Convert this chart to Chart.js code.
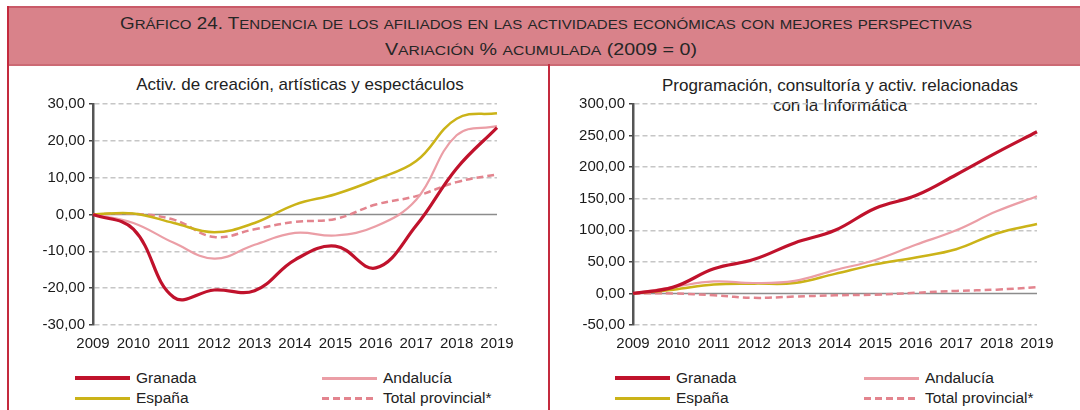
<!DOCTYPE html>
<html>
<head>
<meta charset="utf-8">
<script src="https://cdn.jsdelivr.net/npm/chart.js@4/dist/chart.umd.min.js"></script>
<style>
  html, body { margin: 0; padding: 0; background: #fff; }
  body { width: 1080px; height: 410px; position: relative; overflow: hidden; font-family: "Liberation Sans", Arial, sans-serif; color: #222; }
  .header {
    position: absolute; left: 8px; top: 6px; width: 1090px; height: 56px;
    background: #d9828a; border-top: 2px solid #c95a68; border-bottom: 2px solid #cc6a74;
    font-family: "Liberation Sans Narrow", "Liberation Sans", Arial, sans-serif;
    font-size: 17px; color: #262626;
  }
  .hline { position: absolute; white-space: nowrap; transform-origin: 0 0; }
  .sc { font-size: 13.6px; }
  .vline { position: absolute; background: #c42a3e; width: 2px; }
  .ctitle { position: absolute; font-size: 17px; text-align: center; color: #222; line-height: 20px; white-space: nowrap; }
  canvas { position: absolute; }
  .leg { position: absolute; font-size: 15.5px; line-height: 16px; }
  .sw { position: absolute; height: 0; }
</style>
</head>
<body>
<div class="header">
  <span class="hline" id="h1">Gráfico 24. Tendencia de los afiliados en las actividades económicas con mejores perspectivas</span>
  <span class="hline" id="h2">Variación % acumulada (2009 = 0)</span>
</div>
<div class="vline" style="left:7px; top:6px; height:404px;"></div>
<div class="vline" style="left:548px; top:64px; height:346px;"></div>

<div class="ctitle" style="left:100px; width:400px; top:75px;">Activ. de creación, artísticas y espectáculos</div>
<div class="ctitle" style="left:630px; width:420px; top:76px;">Programación, consultoría y activ. relacionadas<br>con la Informática</div>

<canvas id="artChart" width="538" height="289" style="left:10px; top:66px;"></canvas>
<canvas id="itChart" width="528" height="289" style="left:552px; top:66px;"></canvas>

<div id="legends"></div>

<script>
// years on the x axis
const years = ['2009', '2010', '2011', '2012', '2013', '2014', '2015', '2016', '2017', '2018', '2019'];

// Activ. de creación, artísticas y espectáculos
const artGranada   = [0, -4.0, -22.5, -20.5, -20.7, -12.3, -8.6, -14.5, -3.0, 12.5, 23.6];
const artAndalucia = [0, -2.3, -7.7, -12.0, -8.2, -5.0, -5.7, -3.2, 4.0, 21.5, 24.0];
const artEspana    = [0, 0.3, -2.3, -4.8, -2.3, 2.7, 5.5, 9.5, 14.5, 26.0, 27.5];
const artTotal     = [0, 0.2, -1.4, -6.1, -4.0, -2.0, -1.2, 2.7, 5.0, 8.8, 10.9];

// Programación, consultoría y activ. relacionadas con la Informática
const itGranada   = [0, 10, 39, 54, 80, 100, 135, 155, 188, 223, 256];
const itAndalucia = [0, 10, 19, 16.5, 20, 37, 53, 77, 100, 130, 154];
const itEspana    = [0, 6, 14, 15.5, 16.5, 31, 46, 57, 70, 95, 110];
const itTotal     = [0, 0, -3, -7, -5, -3, -2, 1, 4, 6, 10];

const seriesNames = ['Granada', 'Andalucía', 'España', 'Total provincial*'];

const COL = {
  granada: '#c0122c',
  andalucia: '#eb9ea6',
  espana: '#cbb318',
  total: '#e3848e'
};

const fmt = v => v.toFixed(2).replace('.', ',');

// header: small caps by hand (lower case runs -> smaller capitals), then stretch to width
function fitHeader(id, left, width, top) {
  const el = document.getElementById(id);
  el.innerHTML = el.textContent.replace(/[a-záéíóúñ]+/g, m => `<span class="sc">${m.toUpperCase()}</span>`);
  const w = el.getBoundingClientRect().width;
  el.style.left = (left - 8) + 'px';
  el.style.top = top + 'px';
  el.style.transform = `scaleX(${width / w})`;
}
fitHeader('h1', 120, 852, 6);
fitHeader('h2', 385, 312, 32);

// solid zero line, drawn under the series
const zeroLine = {
  id: 'zeroLine',
  beforeDatasetsDraw(chart) {
    const { ctx, chartArea, scales } = chart;
    const y = scales.y.getPixelForValue(0);
    ctx.save();
    ctx.strokeStyle = '#8c8c8c';
    ctx.lineWidth = 1.5;
    ctx.beginPath();
    ctx.moveTo(chartArea.left, y);
    ctx.lineTo(chartArea.right, y);
    ctx.stroke();
    ctx.restore();
  }
};

function makeChart(id, data, yMin, yMax, step, yWidth, padRight) {
  const ctx = document.getElementById(id).getContext('2d');
  return new Chart(ctx, {
    type: 'line',
    data: {
      labels: years,
      datasets: [
        { label: seriesNames[3], data: data[3], borderColor: COL.total, borderWidth: 2.5, borderDash: [7, 4], order: 4 },
        { label: seriesNames[2], data: data[2], borderColor: COL.espana, borderWidth: 2.5, order: 3 },
        { label: seriesNames[1], data: data[1], borderColor: COL.andalucia, borderWidth: 2.2, order: 2 },
        { label: seriesNames[0], data: data[0], borderColor: COL.granada, borderWidth: 3.2, order: 1 }
      ].map(d => Object.assign({ pointRadius: 0, tension: 0.4, fill: false }, d))
    },
    options: {
      responsive: false,
      animation: false,
      devicePixelRatio: 1,
      layout: { padding: { top: 38, right: padRight, left: 0, bottom: 0 } },
      plugins: { legend: { display: false }, tooltip: { enabled: false } },
      scales: {
        x: {
          offset: false,
          grid: { display: false, drawTicks: false },
          border: { display: false },
          ticks: { color: '#1a1a1a', font: { family: 'Liberation Sans', size: 15 }, padding: 10, maxRotation: 0, autoSkip: false },
          afterFit: s => { s.height = 30; }
        },
        y: {
          min: yMin, max: yMax,
          ticks: { stepSize: step, callback: v => fmt(v), color: '#1a1a1a', font: { family: 'Liberation Sans', size: 15 }, padding: 4 },
          grid: {
            color: c => c.tick && c.tick.value === 0 ? 'rgba(0,0,0,0)' : '#c6c6c6',
            lineWidth: 1.5,
            tickColor: '#444',
            tickLength: 4
          },
          border: { display: true, color: '#555', width: 2.5, dash: [5, 3] },
          afterFit: s => { s.width = yWidth; }
        }
      }
    },
    plugins: [zeroLine]
  });
}

makeChart('artChart', [artGranada, artAndalucia, artEspana, artTotal], -30, 30, 10, 83, 51);
makeChart('itChart', [itGranada, itAndalucia, itEspana, itTotal], -50, 300, 50, 81, 43);

// legends (two blocks of 2x2)
const legendItems = [
  { name: seriesNames[0], color: COL.granada, w: 4, dash: false, col: 0, row: 0 },
  { name: seriesNames[1], color: COL.andalucia, w: 3, dash: false, col: 1, row: 0 },
  { name: seriesNames[2], color: COL.espana, w: 3, dash: false, col: 0, row: 1 },
  { name: seriesNames[3], color: COL.total, w: 3, dash: true, col: 1, row: 1 }
];
const legendBlocks = [{ x: 75, colGap: 247 }, { x: 615, colGap: 249 }];
const host = document.getElementById('legends');
legendBlocks.forEach(b => {
  legendItems.forEach(it => {
    const x = b.x + it.col * b.colGap;
    const y = 378 + it.row * 20;
    const sw = document.createElement('div');
    sw.className = 'sw';
    sw.style.left = x + 'px';
    sw.style.top = (y - it.w / 2) + 'px';
    sw.style.width = '55px';
    sw.style.height = it.w + 'px';
    sw.style.background = it.dash
      ? `repeating-linear-gradient(90deg, ${it.color} 0 7px, transparent 7px 11px)`
      : it.color;
    host.appendChild(sw);
    const t = document.createElement('div');
    t.className = 'leg';
    t.style.left = (x + 61) + 'px';
    t.style.top = (y - 8) + 'px';
    t.textContent = it.name;
    host.appendChild(t);
  });
});
</script>
</body>
</html>
